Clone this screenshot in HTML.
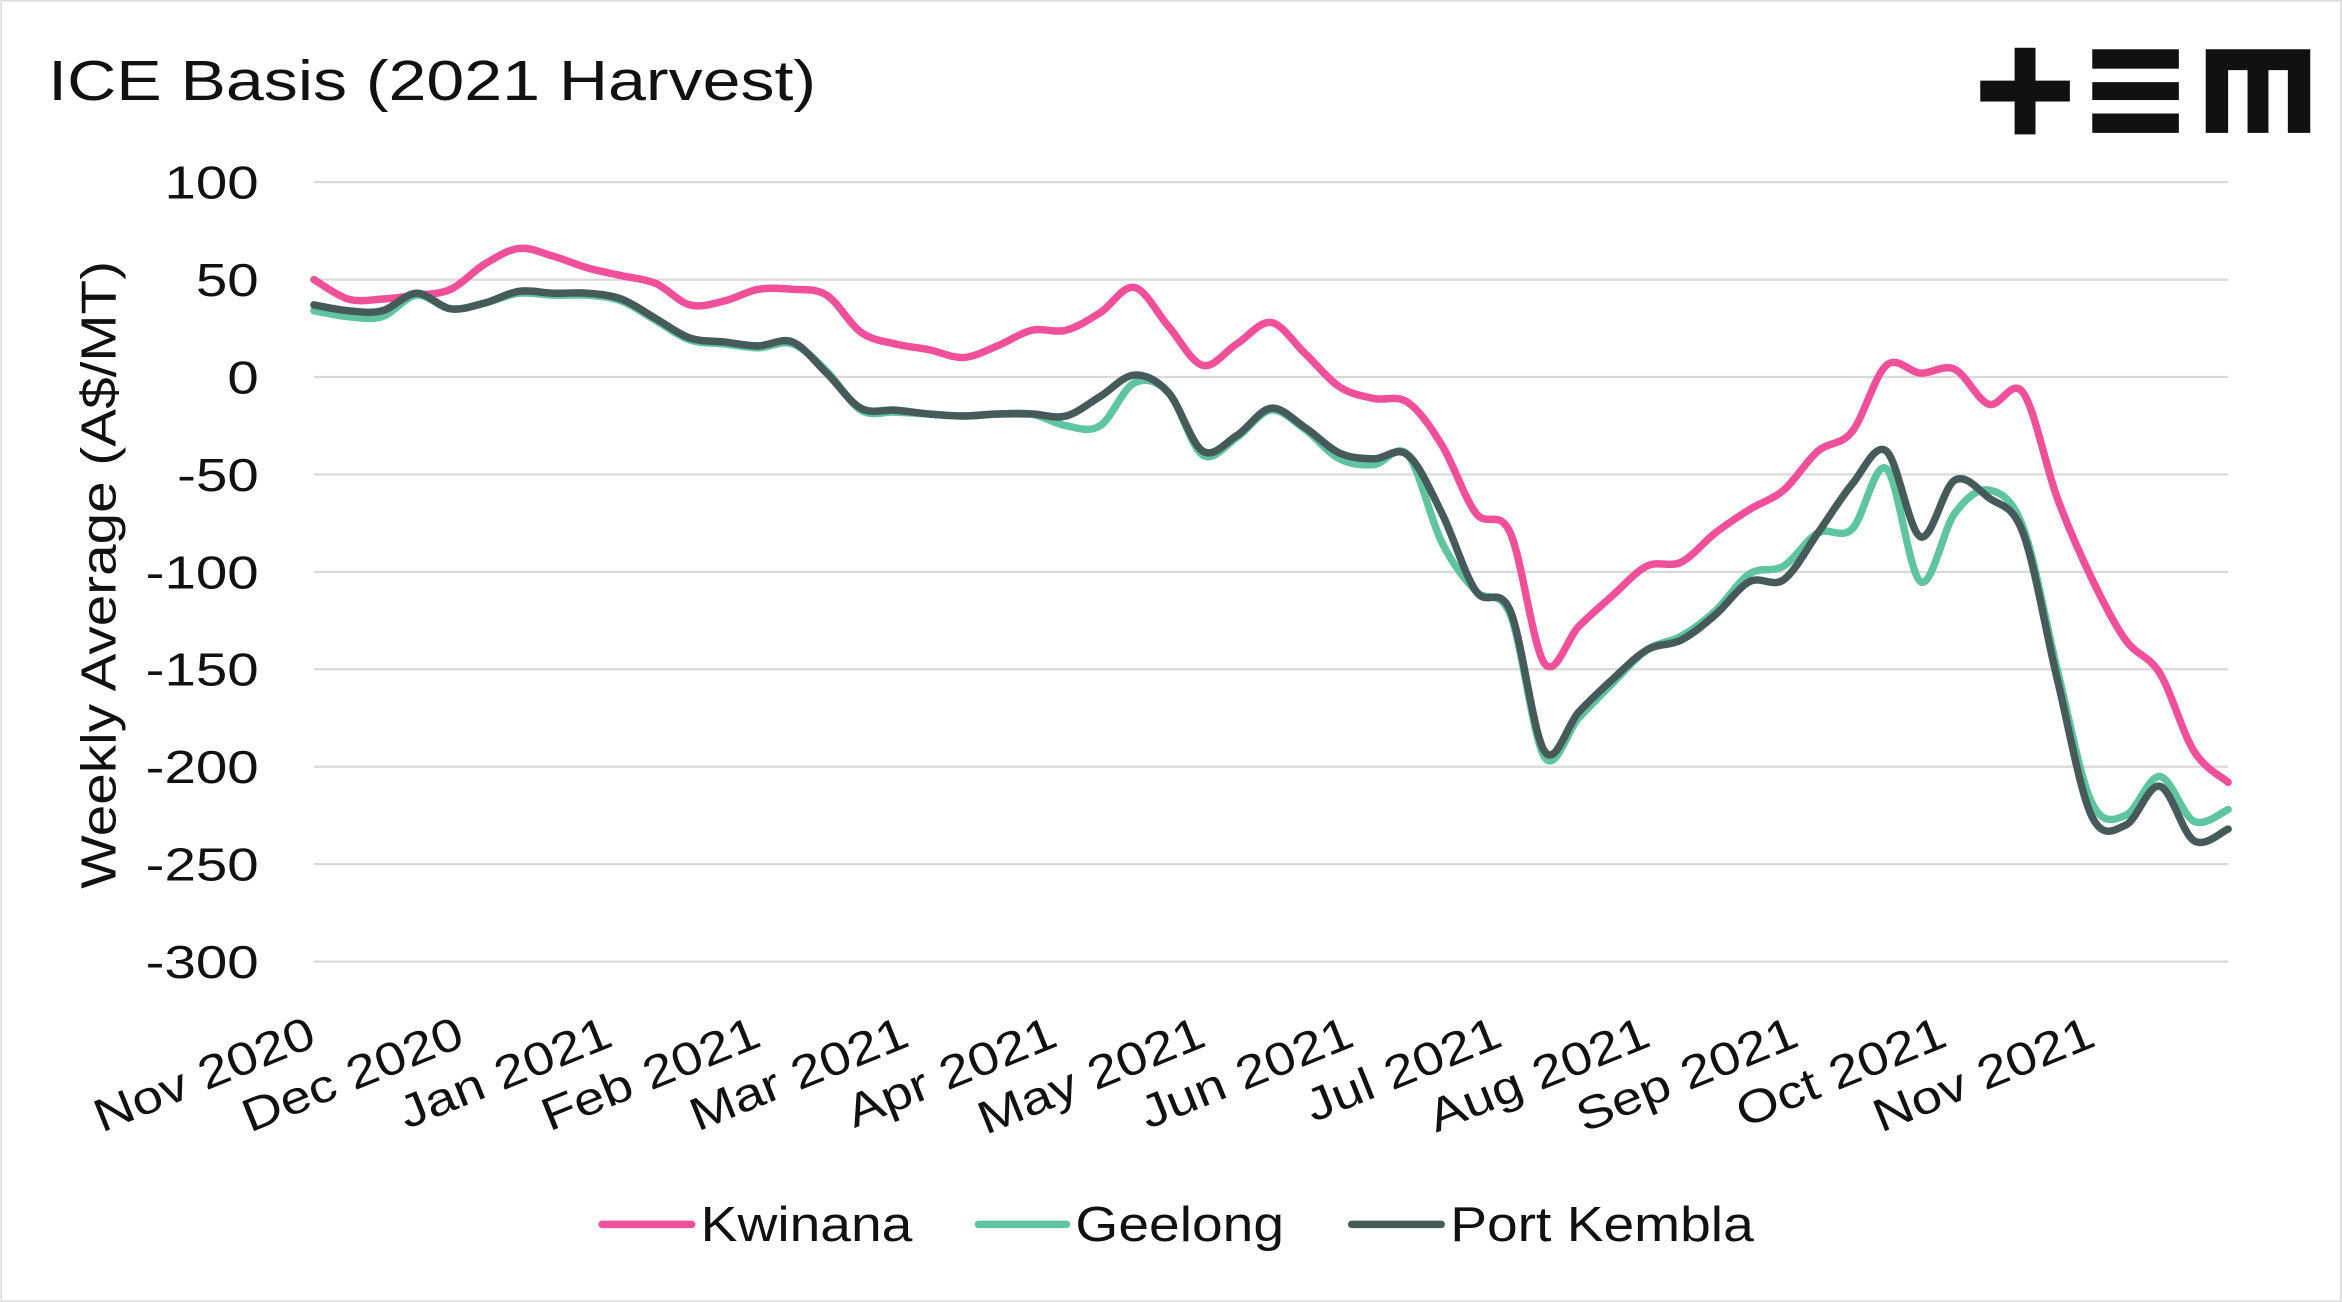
<!DOCTYPE html>
<html><head><meta charset="utf-8"><style>
html,body{margin:0;padding:0;background:#fff}
svg{display:block}
text{font-family:"Liberation Sans",sans-serif;fill:#111}
</style></head><body>
<svg id="chart" width="2342" height="1302" viewBox="0 0 1568 872" xmlns="http://www.w3.org/2000/svg">
<rect x="0.5" y="0.5" width="1567" height="871" fill="#fff" stroke="#d9d9d9"/>
<text class="st" data-f="1.2" x="32" y="67" font-size="38">ICE Basis (2021 Harvest)</text>
<g fill="#111">
<rect x="1326" y="54" width="60" height="14"/><rect x="1349" y="32" width="14" height="58"/>
<rect x="1401" y="33" width="58" height="13"/><rect x="1401" y="55" width="58" height="12"/><rect x="1401" y="76" width="58" height="13"/>
<path d="M1477 33 H1547 V89 H1532 V47 H1519 V89 H1505 V47 H1492 V89 H1477 Z"/>
</g>
<g id="grid"></g>
<g id="yticks"></g>
<g id="xticks"></g>
<text class="st" data-f="1.15" transform="translate(77,385) rotate(-90)" text-anchor="middle" font-size="33">Weekly Average (A$/MT)</text>
<g id="series"></g>
<g>
<g><line x1="403" y1="820" x2="463" y2="820" stroke="#f0509a" stroke-width="5" stroke-linecap="round"/><text class="st" data-f="1.12" x="469" y="831" font-size="33">Kwinana</text></g>
<g><line x1="655" y1="820" x2="714" y2="820" stroke="#5fc4a0" stroke-width="5" stroke-linecap="round"/><text class="st" data-f="1.12" x="720" y="831" font-size="33">Geelong</text></g>
<g><line x1="905" y1="820" x2="965" y2="820" stroke="#465a5a" stroke-width="5" stroke-linecap="round"/><text class="st" data-f="1.12" x="971" y="831" font-size="33">Port Kembla</text></g>
</g>
</svg>
<script>
const yTicks=[100,50,0,-50,-100,-150,-200,-250,-300];
const monthLabels=["Nov 2020","Dec 2020","Jan 2021","Feb 2021","Mar 2021","Apr 2021","May 2021","Jun 2021","Jul 2021","Aug 2021","Sep 2021","Oct 2021","Nov 2021"];
const kwinana=[50,40,40,42,45,58,66,62,56,52,48,37,39,45,45,42,23,17,14,10,16,24,24,33,46,26,6,17,28,12,-5,-11,-13,-35,-70,-80,-147,-128,-112,-97,-95,-80,-68,-58,-38,-28,6,2,4,-14,-8,-62,-103,-135,-152,-192,-208];
const geelong=[34,31,31,42,35,38,43,42,42,39,29,19,17,15,17,3,-17,-18,-19,-20,-19,-19,-25,-25,-3,-8,-40,-31,-17,-27,-42,-45,-40,-85,-110,-122,-195,-175,-157,-140,-133,-120,-101,-97,-80,-78,-47,-105,-70,-58,-77,-150,-218,-225,-205,-228,-222];
const portKembla=[37,34,34,43,35,38,44,43,43,40,30,20,18,16,18,2,-16,-17,-19,-20,-19,-19,-20,-10,1,-8,-38,-30,-16,-26,-39,-42,-40,-70,-110,-120,-192,-172,-155,-140,-135,-122,-105,-104,-80,-55,-38,-82,-53,-62,-80,-155,-225,-230,-210,-238,-232];
const X0=210,X1=1492,NS="http://www.w3.org/2000/svg";
const y=v=>252.5-v*1.305;
const x=i=>X0+i*(X1-X0)/(kwinana.length-1);
const monthX=m=>213+m*99.3;
const grid=document.getElementById('grid'),yt=document.getElementById('yticks'),xt=document.getElementById('xticks');
yTicks.forEach(v=>{
 const l=document.createElementNS(NS,'line');
 l.setAttribute('x1',X0);l.setAttribute('x2',X1);l.setAttribute('y1',y(v));l.setAttribute('y2',y(v));
 l.setAttribute('stroke','#d9d9d9');l.setAttribute('stroke-width','1.5');
 
 
 grid.appendChild(l);
 const t=document.createElementNS(NS,'text');
 t.setAttribute('x',173);t.setAttribute('y',y(v)+11);t.setAttribute('text-anchor','end');t.setAttribute('font-size','31');
 t.setAttribute('class','st');t.setAttribute('data-f','1.22');
 t.textContent=v;
 
 
 yt.appendChild(t);
});
monthLabels.forEach((m,i)=>{
 const t=document.createElementNS(NS,'text');
 const px=monthX(i),py=700;
 t.setAttribute('x',px);t.setAttribute('y',py);t.setAttribute('text-anchor','end');t.setAttribute('font-size','31');
 t.setAttribute('transform','rotate(-22 '+px+' '+py+')');
 t.setAttribute('class','st');t.setAttribute('data-f','1.18');
 t.textContent=m;
 
 
 xt.appendChild(t);
});
document.querySelectorAll('text.st').forEach(t=>{
 const w=t.getComputedTextLength();
 t.setAttribute('textLength',(w*parseFloat(t.getAttribute('data-f'))).toFixed(1));
 t.setAttribute('lengthAdjust','spacingAndGlyphs');
});
function path(vals){
 const p=vals.map((v,i)=>[x(i),y(v)]);
 let d='M'+p[0][0]+' '+p[0][1];
 for(let i=0;i<p.length-1;i++){
  const p0=p[Math.max(0,i-1)],p1=p[i],p2=p[i+1],p3=p[Math.min(p.length-1,i+2)];
  const c1=[p1[0]+(p2[0]-p0[0])/6,p1[1]+(p2[1]-p0[1])/6];
  const c2=[p2[0]-(p3[0]-p1[0])/6,p2[1]-(p3[1]-p1[1])/6];
  d+=' C'+c1[0]+' '+c1[1]+' '+c2[0]+' '+c2[1]+' '+p2[0]+' '+p2[1];
 }
 return d;
}
const ser=document.getElementById('series');
[[kwinana,'#f0509a','kwinana-line'],[geelong,'#5fc4a0','geelong-line'],[portKembla,'#465a5a','port-kembla-line']].forEach(s=>{
 const el=document.createElementNS(NS,'path');
 el.setAttribute('d',path(s[0]));el.setAttribute('fill','none');el.setAttribute('stroke',s[1]);
 el.setAttribute('stroke-width','5');el.setAttribute('stroke-linejoin','round');el.setAttribute('stroke-linecap','round');
 
 
 ser.appendChild(el);
});
</script>
</body></html>
